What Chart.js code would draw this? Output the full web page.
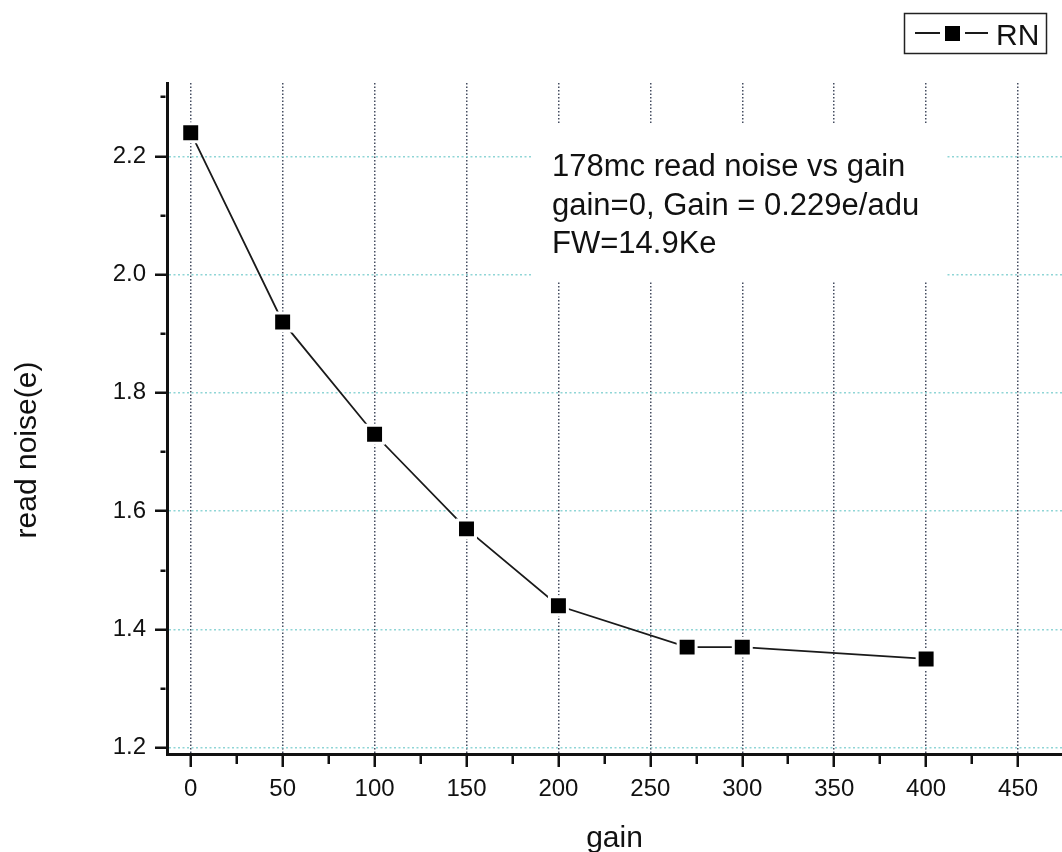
<!DOCTYPE html>
<html>
<head>
<meta charset="utf-8">
<script src="https://cdn.jsdelivr.net/npm/chart.js@4.4.1/dist/chart.umd.min.js"></script>
<style>
  html, body { margin: 0; padding: 0; background: #fff; overflow: hidden; }
  canvas { display: block; }
</style>
</head>
<body>
<canvas id="rnChart" width="1062" height="857"></canvas>
<script>
/* ---------------- data ---------------- */

const gainValues = [0, 50, 100, 150, 200, 270, 300, 400];
const readNoise = [2.24, 1.92, 1.73, 1.57, 1.44, 1.37, 1.37, 1.35];

const xMajorTicks = [0, 50, 100, 150, 200, 250, 300, 350, 400, 450];
const xMinorTicks = [25, 75, 125, 175, 225, 275, 325, 375, 425];
const yMajorTicks = [1.2, 1.4, 1.6, 1.8, 2.0, 2.2];
const yMinorTicks = [1.3, 1.5, 1.7, 1.9, 2.1, 2.3];

const seriesName = "RN";
const xTitle = "gain";
const yTitle = "read noise(e)";
const noteLines = [
    "178mc read noise vs gain",
    "gain=0, Gain = 0.229e/adu",
    "FW=14.9Ke"
];

const FONT = "'Liberation Sans', Arial, sans-serif";

/* ---------------- helpers ---------------- */

function fixedTicks(major, minor) {
    return function (scale) {
        scale.ticks = major.concat(minor)
            .filter(v => v >= scale.min && v <= scale.max)
            .sort((a, b) => a - b)
            .map(v => ({ value: v, major: major.includes(v) }));
    };
}

const isMajor = c => !!(c.tick && c.tick.major);

/* note box, legend and y title */
const decorPlugin = {
    id: "decor",
    beforeDatasetsDraw(chart) {
        const ctx = chart.ctx;
        ctx.save();
        ctx.fillStyle = "#fff";
        ctx.fillRect(533, 123, 412, 158);
        ctx.fillStyle = "#111";
        ctx.font = "31px " + FONT;
        ctx.textBaseline = "alphabetic";
        noteLines.forEach((t, i) => ctx.fillText(t, 552, 176 + i * 38.5));
        ctx.restore();
    },
    afterDraw(chart) {
        const ctx = chart.ctx;
        const ds = chart.data.datasets[0];
        ctx.save();

        // legend
        ctx.strokeStyle = "#222";
        ctx.lineWidth = 1.5;
        ctx.strokeRect(904.5, 13.5, 142, 40);
        ctx.strokeStyle = ds.borderColor;
        ctx.lineWidth = 2;
        ctx.beginPath();
        ctx.moveTo(915, 33); ctx.lineTo(940, 33);
        ctx.moveTo(965, 33); ctx.lineTo(988, 33);
        ctx.stroke();
        ctx.fillStyle = ds.pointBackgroundColor;
        ctx.fillRect(945, 26, 15, 15);
        ctx.fillStyle = "#111";
        ctx.font = "30px " + FONT;
        ctx.fillText(ds.label, 996, 45);

        // y axis title
        ctx.translate(28, 450);
        ctx.rotate(-Math.PI / 2);
        ctx.textAlign = "center";
        ctx.textBaseline = "middle";
        ctx.font = "30px " + FONT;
        ctx.fillText(yTitle, 0, 0);

        ctx.restore();
    }
};

/* ---------------- chart ---------------- */

const ctx = document.getElementById("rnChart").getContext("2d");

new Chart(ctx, {

    type: "line",

    data: {
        datasets: [
            {
                label: seriesName,
                data: gainValues.map((g, i) => ({ x: g, y: readNoise[i] })),
                borderColor: "#1a1a1a",
                borderWidth: 1.8,
                pointStyle: "rect",
                pointRadius: 12.7,
                pointHoverRadius: 12.7,
                pointBackgroundColor: "#000",
                pointBorderColor: "#fff",
                pointBorderWidth: 3,
                tension: 0,
                clip: false
            }
        ]
    },

    options: {
        responsive: false,
        animation: false,
        events: [],
        layout: {
            autoPadding: false,
            padding: { top: 83, left: 0, right: 0, bottom: 0 }
        },
        plugins: {
            legend: { display: false },
            tooltip: { enabled: false }
        },
        scales: {
            x: {
                type: "linear",
                min: -12.9,
                max: 473.9,
                afterBuildTicks: fixedTicks(xMajorTicks, xMinorTicks),
                afterFit: s => {
                    s.height = 103;
                    s.paddingLeft = 0;
                    s.paddingRight = 0;
                },
                ticks: {
                    autoSkip: false,
                    maxRotation: 0,
                    padding: 8,
                    color: "#111",
                    font: { family: FONT, size: 24 },
                    callback: v => xMajorTicks.includes(v) ? String(v) : ""
                },
                grid: {
                    color: c => isMajor(c) ? "#454d60" : "transparent",
                    lineWidth: 1.5,
                    tickLength: 13,
                    tickWidth: 2.5,
                    tickColor: "#111",
                    tickBorderDash: c => isMajor(c) ? [] : [8, 100]
                },
                border: { display: true, color: "#111", width: 3, dash: [1.5, 2] },
                title: {
                    display: true,
                    text: xTitle,
                    color: "#111",
                    padding: 0,
                    font: { family: FONT, size: 30 }
                }
            },
            y: {
                type: "linear",
                min: 1.1893,
                max: 2.324,
                afterBuildTicks: fixedTicks(yMajorTicks, yMinorTicks),
                afterFit: s => { s.width = 167; },
                ticks: {
                    autoSkip: false,
                    padding: 9,
                    color: "#111",
                    font: { family: FONT, size: 24 },
                    callback: v => yMajorTicks.includes(v) ? v.toFixed(1) : ""
                },
                grid: {
                    color: c => isMajor(c) ? "#8fd5d6" : "transparent",
                    lineWidth: 1.5,
                    tickLength: 12,
                    tickWidth: 2.5,
                    tickColor: "#111",
                    tickBorderDash: c => isMajor(c) ? [] : [5, 100],
                    tickBorderDashOffset: c => isMajor(c) ? 0 : 99.5
                },
                border: { display: true, color: "#111", width: 3, dash: [2, 2.5] }
            }
        }
    },

    plugins: [decorPlugin]

});
</script>
</body>
</html>
